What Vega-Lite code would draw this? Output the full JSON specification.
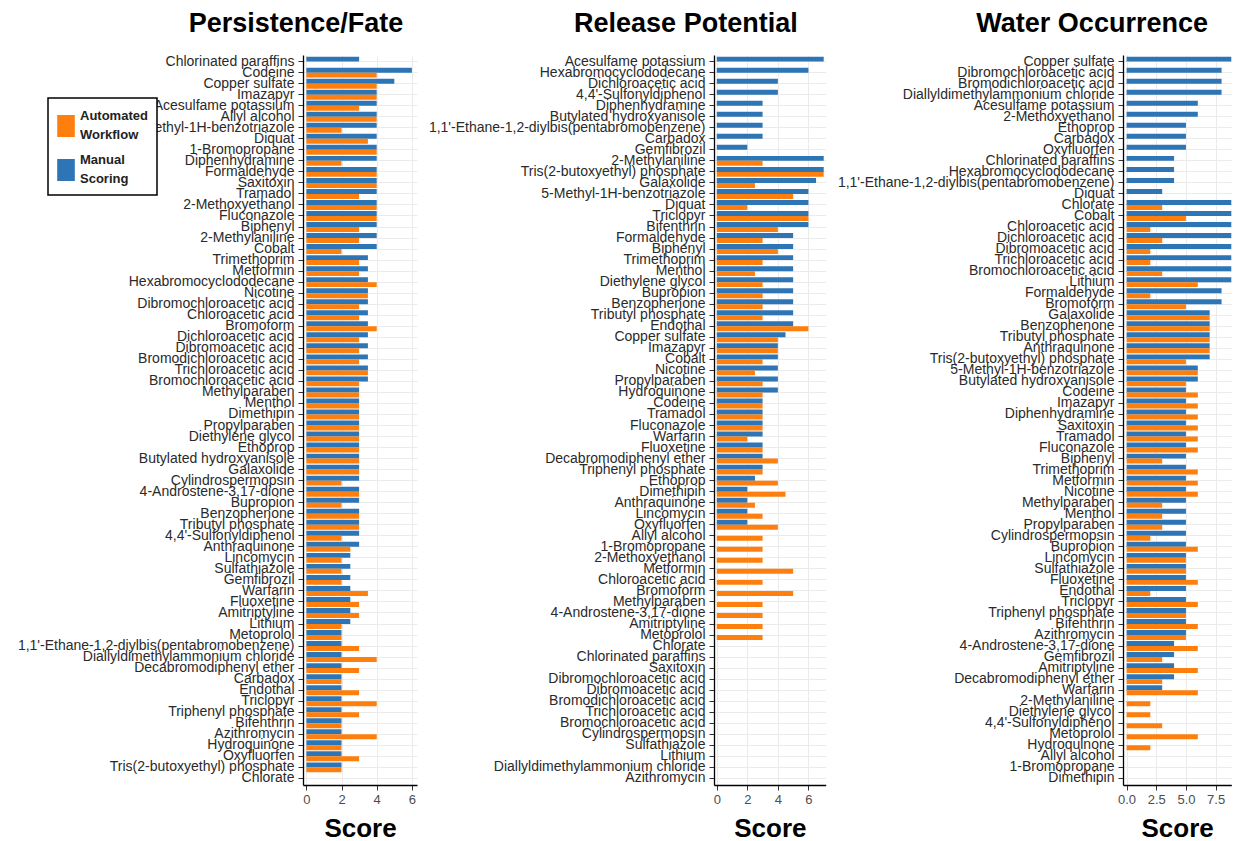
{
  "$schema": "https://vega.github.io/schema/vega-lite/v6.json",
  "background": "white",
  "padding": {"left": 17, "top": 10, "right": 0, "bottom": 0},
  "bounds": "flush",
  "spacing": 297,
  "config": {
    "font": "Liberation Sans",
    "view": {"stroke": null},
    "axis": {"domainColor": "#000000", "domainWidth": 1.3, "tickColor": "#333333", "tickSize": 5, "gridColor": "#EBEBEB", "gridWidth": 1, "labelColor": "#2A2A2A"},
    "axisY": {"labelFontSize": 14, "labelLimit": 500, "labelPadding": 4, "bandPosition": 0.5, "grid": true, "title": null},
    "axisX": {"labelFontSize": 13, "labelColor": "#4D4D4D", "grid": true, "titleFontSize": 26, "titleFontWeight": "bold", "titleColor": "#000000", "titlePadding": 9, "labelPadding": 3},
    "title": {"fontSize": 27, "fontWeight": "bold", "color": "#000000", "anchor": "middle", "offset": 16},
    "legend": {"orient": "none", "legendX": -255, "legendY": 43, "title": null, "strokeColor": "#000000", "strokeWidth": 1.5, "fillColor": "#FFFFFF", "padding": 9, "symbolType": "M-1,-1.25H1V1.25H-1Z", "symbolSize": 310, "symbolStrokeWidth": 0, "labelFontSize": 13, "labelFontWeight": "bold", "labelColor": "#222222", "labelOffset": 5, "rowPadding": 9, "labelLimit": 200}
  },
  "datasets": {
    "p1": [
      {"chemical": "Chlorinated paraffins", "manual": 3},
      {"chemical": "Codeine", "manual": 6, "automated": 4},
      {"chemical": "Copper sulfate", "manual": 5, "automated": 4},
      {"chemical": "Imazapyr", "manual": 4, "automated": 4},
      {"chemical": "Acesulfame potassium", "manual": 4, "automated": 3},
      {"chemical": "Allyl alcohol", "manual": 4, "automated": 4},
      {"chemical": "5-Methyl-1H-benzotriazole", "manual": 4, "automated": 2},
      {"chemical": "Diquat", "manual": 4, "automated": 3.5},
      {"chemical": "1-Bromopropane", "manual": 4, "automated": 4},
      {"chemical": "Diphenhydramine", "manual": 4, "automated": 2},
      {"chemical": "Formaldehyde", "manual": 4, "automated": 4},
      {"chemical": "Saxitoxin", "manual": 4, "automated": 4},
      {"chemical": "Tramadol", "manual": 4, "automated": 3},
      {"chemical": "2-Methoxyethanol", "manual": 4, "automated": 4},
      {"chemical": "Fluconazole", "manual": 4, "automated": 4},
      {"chemical": "Biphenyl", "manual": 4, "automated": 3},
      {"chemical": "2-Methylaniline", "manual": 4, "automated": 3},
      {"chemical": "Cobalt", "manual": 4, "automated": 2},
      {"chemical": "Trimethoprim", "manual": 3.5, "automated": 3},
      {"chemical": "Metformin", "manual": 3.5, "automated": 3},
      {"chemical": "Hexabromocyclododecane", "manual": 3.5, "automated": 4},
      {"chemical": "Nicotine", "manual": 3.5, "automated": 3.5},
      {"chemical": "Dibromochloroacetic acid", "manual": 3.5, "automated": 3},
      {"chemical": "Chloroacetic acid", "manual": 3.5, "automated": 3},
      {"chemical": "Bromoform", "manual": 3.5, "automated": 4},
      {"chemical": "Dichloroacetic acid", "manual": 3.5, "automated": 3},
      {"chemical": "Dibromoacetic acid", "manual": 3.5, "automated": 3},
      {"chemical": "Bromodichloroacetic acid", "manual": 3.5, "automated": 3},
      {"chemical": "Trichloroacetic acid", "manual": 3.5, "automated": 3.5},
      {"chemical": "Bromochloroacetic acid", "manual": 3.5, "automated": 3},
      {"chemical": "Methylparaben", "manual": 3, "automated": 3},
      {"chemical": "Menthol", "manual": 3, "automated": 3},
      {"chemical": "Dimethipin", "manual": 3, "automated": 3},
      {"chemical": "Propylparaben", "manual": 3, "automated": 3},
      {"chemical": "Diethylene glycol", "manual": 3, "automated": 3},
      {"chemical": "Ethoprop", "manual": 3, "automated": 3},
      {"chemical": "Butylated hydroxyanisole", "manual": 3, "automated": 3},
      {"chemical": "Galaxolide", "manual": 3, "automated": 3},
      {"chemical": "Cylindrospermopsin", "manual": 3, "automated": 2},
      {"chemical": "4-Androstene-3,17-dione", "manual": 3, "automated": 3},
      {"chemical": "Bupropion", "manual": 3, "automated": 2},
      {"chemical": "Benzophenone", "manual": 3, "automated": 3},
      {"chemical": "Tributyl phosphate", "manual": 3, "automated": 3},
      {"chemical": "4,4'-Sulfonyldiphenol", "manual": 3, "automated": 2},
      {"chemical": "Anthraquinone", "manual": 3, "automated": 2.5},
      {"chemical": "Lincomycin", "manual": 2.5, "automated": 2},
      {"chemical": "Sulfathiazole", "manual": 2.5, "automated": 2},
      {"chemical": "Gemfibrozil", "manual": 2.5, "automated": 2},
      {"chemical": "Warfarin", "manual": 2.5, "automated": 3.5},
      {"chemical": "Fluoxetine", "manual": 2.5, "automated": 3},
      {"chemical": "Amitriptyline", "manual": 2.5, "automated": 3},
      {"chemical": "Lithium", "manual": 2.5, "automated": 2},
      {"chemical": "Metoprolol", "manual": 2, "automated": 2},
      {"chemical": "1,1'-Ethane-1,2-diylbis(pentabromobenzene)", "manual": 2, "automated": 3},
      {"chemical": "Diallyldimethylammonium chloride", "manual": 2, "automated": 4},
      {"chemical": "Decabromodiphenyl ether", "manual": 2, "automated": 3},
      {"chemical": "Carbadox", "manual": 2, "automated": 2},
      {"chemical": "Endothal", "manual": 2, "automated": 3},
      {"chemical": "Triclopyr", "manual": 2, "automated": 4},
      {"chemical": "Triphenyl phosphate", "manual": 2, "automated": 3},
      {"chemical": "Bifenthrin", "manual": 2, "automated": 2},
      {"chemical": "Azithromycin", "manual": 2, "automated": 4},
      {"chemical": "Hydroquinone", "manual": 2, "automated": 2},
      {"chemical": "Oxyfluorfen", "manual": 2, "automated": 3},
      {"chemical": "Tris(2-butoxyethyl) phosphate", "manual": 2, "automated": 2},
      {"chemical": "Chlorate"}
    ],
    "p2": [
      {"chemical": "Acesulfame potassium", "manual": 7},
      {"chemical": "Hexabromocyclododecane", "manual": 6},
      {"chemical": "Dichloroacetic acid", "manual": 4},
      {"chemical": "4,4'-Sulfonyldiphenol", "manual": 4},
      {"chemical": "Diphenhydramine", "manual": 3},
      {"chemical": "Butylated hydroxyanisole", "manual": 3},
      {"chemical": "1,1'-Ethane-1,2-diylbis(pentabromobenzene)", "manual": 3},
      {"chemical": "Carbadox", "manual": 3},
      {"chemical": "Gemfibrozil", "manual": 2},
      {"chemical": "2-Methylaniline", "manual": 7, "automated": 3},
      {"chemical": "Tris(2-butoxyethyl) phosphate", "manual": 7, "automated": 7},
      {"chemical": "Galaxolide", "manual": 6.5, "automated": 2.5},
      {"chemical": "5-Methyl-1H-benzotriazole", "manual": 6, "automated": 5},
      {"chemical": "Diquat", "manual": 6, "automated": 2},
      {"chemical": "Triclopyr", "manual": 6, "automated": 6},
      {"chemical": "Bifenthrin", "manual": 6, "automated": 4},
      {"chemical": "Formaldehyde", "manual": 5, "automated": 3},
      {"chemical": "Biphenyl", "manual": 5, "automated": 4},
      {"chemical": "Trimethoprim", "manual": 5, "automated": 3},
      {"chemical": "Menthol", "manual": 5, "automated": 2.5},
      {"chemical": "Diethylene glycol", "manual": 5, "automated": 3},
      {"chemical": "Bupropion", "manual": 5, "automated": 3},
      {"chemical": "Benzophenone", "manual": 5, "automated": 3},
      {"chemical": "Tributyl phosphate", "manual": 5, "automated": 3},
      {"chemical": "Endothal", "manual": 5, "automated": 6},
      {"chemical": "Copper sulfate", "manual": 4.5, "automated": 4},
      {"chemical": "Imazapyr", "manual": 4, "automated": 4},
      {"chemical": "Cobalt", "manual": 4, "automated": 3},
      {"chemical": "Nicotine", "manual": 4, "automated": 2.5},
      {"chemical": "Propylparaben", "manual": 4, "automated": 3},
      {"chemical": "Hydroquinone", "manual": 4, "automated": 3},
      {"chemical": "Codeine", "manual": 3, "automated": 3},
      {"chemical": "Tramadol", "manual": 3, "automated": 3},
      {"chemical": "Fluconazole", "manual": 3, "automated": 3},
      {"chemical": "Warfarin", "manual": 3, "automated": 2},
      {"chemical": "Fluoxetine", "manual": 3, "automated": 3},
      {"chemical": "Decabromodiphenyl ether", "manual": 3, "automated": 4},
      {"chemical": "Triphenyl phosphate", "manual": 3, "automated": 3},
      {"chemical": "Ethoprop", "manual": 2.5, "automated": 4},
      {"chemical": "Dimethipin", "manual": 2, "automated": 4.5},
      {"chemical": "Anthraquinone", "manual": 2, "automated": 2.5},
      {"chemical": "Lincomycin", "manual": 2, "automated": 3},
      {"chemical": "Oxyfluorfen", "manual": 2, "automated": 4},
      {"chemical": "Allyl alcohol", "automated": 3},
      {"chemical": "1-Bromopropane", "automated": 3},
      {"chemical": "2-Methoxyethanol", "automated": 3},
      {"chemical": "Metformin", "automated": 5},
      {"chemical": "Chloroacetic acid", "automated": 3},
      {"chemical": "Bromoform", "automated": 5},
      {"chemical": "Methylparaben", "automated": 3},
      {"chemical": "4-Androstene-3,17-dione", "automated": 3},
      {"chemical": "Amitriptyline", "automated": 3},
      {"chemical": "Metoprolol", "automated": 3}
    ],
    "p3": [
      {"chemical": "Copper sulfate", "manual": 10},
      {"chemical": "Dibromochloroacetic acid", "manual": 8},
      {"chemical": "Bromodichloroacetic acid", "manual": 8},
      {"chemical": "Diallyldimethylammonium chloride", "manual": 8},
      {"chemical": "Acesulfame potassium", "manual": 6},
      {"chemical": "2-Methoxyethanol", "manual": 6},
      {"chemical": "Ethoprop", "manual": 5},
      {"chemical": "Carbadox", "manual": 5},
      {"chemical": "Oxyfluorfen", "manual": 5},
      {"chemical": "Chlorinated paraffins", "manual": 4},
      {"chemical": "Hexabromocyclododecane", "manual": 4},
      {"chemical": "1,1'-Ethane-1,2-diylbis(pentabromobenzene)", "manual": 4},
      {"chemical": "Diquat", "manual": 3},
      {"chemical": "Chlorate", "manual": 10, "automated": 3},
      {"chemical": "Cobalt", "manual": 10, "automated": 5},
      {"chemical": "Chloroacetic acid", "manual": 10, "automated": 2},
      {"chemical": "Dichloroacetic acid", "manual": 10, "automated": 3},
      {"chemical": "Dibromoacetic acid", "manual": 10, "automated": 2},
      {"chemical": "Trichloroacetic acid", "manual": 10, "automated": 2},
      {"chemical": "Bromochloroacetic acid", "manual": 10, "automated": 3},
      {"chemical": "Lithium", "manual": 10, "automated": 6},
      {"chemical": "Formaldehyde", "manual": 8, "automated": 2},
      {"chemical": "Bromoform", "manual": 8, "automated": 5},
      {"chemical": "Galaxolide", "manual": 7, "automated": 7},
      {"chemical": "Benzophenone", "manual": 7, "automated": 7},
      {"chemical": "Tributyl phosphate", "manual": 7, "automated": 7},
      {"chemical": "Anthraquinone", "manual": 7, "automated": 7},
      {"chemical": "Tris(2-butoxyethyl) phosphate", "manual": 7, "automated": 5},
      {"chemical": "5-Methyl-1H-benzotriazole", "manual": 6, "automated": 6},
      {"chemical": "Butylated hydroxyanisole", "manual": 6, "automated": 5},
      {"chemical": "Codeine", "manual": 5, "automated": 6},
      {"chemical": "Imazapyr", "manual": 5, "automated": 6},
      {"chemical": "Diphenhydramine", "manual": 5, "automated": 6},
      {"chemical": "Saxitoxin", "manual": 5, "automated": 6},
      {"chemical": "Tramadol", "manual": 5, "automated": 6},
      {"chemical": "Fluconazole", "manual": 5, "automated": 6},
      {"chemical": "Biphenyl", "manual": 5, "automated": 3},
      {"chemical": "Trimethoprim", "manual": 5, "automated": 6},
      {"chemical": "Metformin", "manual": 5, "automated": 6},
      {"chemical": "Nicotine", "manual": 5, "automated": 6},
      {"chemical": "Methylparaben", "manual": 5, "automated": 3},
      {"chemical": "Menthol", "manual": 5, "automated": 3},
      {"chemical": "Propylparaben", "manual": 5, "automated": 3},
      {"chemical": "Cylindrospermopsin", "manual": 5, "automated": 2},
      {"chemical": "Bupropion", "manual": 5, "automated": 6},
      {"chemical": "Lincomycin", "manual": 5, "automated": 5},
      {"chemical": "Sulfathiazole", "manual": 5, "automated": 5},
      {"chemical": "Fluoxetine", "manual": 5, "automated": 6},
      {"chemical": "Endothal", "manual": 5, "automated": 2},
      {"chemical": "Triclopyr", "manual": 5, "automated": 6},
      {"chemical": "Triphenyl phosphate", "manual": 5, "automated": 5},
      {"chemical": "Bifenthrin", "manual": 5, "automated": 6},
      {"chemical": "Azithromycin", "manual": 5, "automated": 5},
      {"chemical": "4-Androstene-3,17-dione", "manual": 4, "automated": 6},
      {"chemical": "Gemfibrozil", "manual": 4, "automated": 3},
      {"chemical": "Amitriptyline", "manual": 4, "automated": 6},
      {"chemical": "Decabromodiphenyl ether", "manual": 4, "automated": 3},
      {"chemical": "Warfarin", "manual": 3, "automated": 6},
      {"chemical": "2-Methylaniline", "automated": 2},
      {"chemical": "Diethylene glycol", "automated": 2},
      {"chemical": "4,4'-Sulfonyldiphenol", "automated": 3},
      {"chemical": "Metoprolol", "automated": 6},
      {"chemical": "Hydroquinone", "automated": 2}
    ]
  },
  "hconcat": [
    {
      "width": 114,
      "height": 730,
      "title": {"text": "Persistence/Fate", "dx": -64},
      "data": {"name": "p1"},
      "transform": [{"fold": ["manual", "automated"], "as": ["method", "score"]}],
      "mark": {"type": "bar", "clip": true},
      "encoding": {
        "y": {"field": "chemical", "type": "nominal", "scale": {"paddingInner": 0.1, "paddingOuter": 0.15, "domain": ["Chlorinated paraffins","Codeine","Copper sulfate","Imazapyr","Acesulfame potassium","Allyl alcohol","5-Methyl-1H-benzotriazole","Diquat","1-Bromopropane","Diphenhydramine","Formaldehyde","Saxitoxin","Tramadol","2-Methoxyethanol","Fluconazole","Biphenyl","2-Methylaniline","Cobalt","Trimethoprim","Metformin","Hexabromocyclododecane","Nicotine","Dibromochloroacetic acid","Chloroacetic acid","Bromoform","Dichloroacetic acid","Dibromoacetic acid","Bromodichloroacetic acid","Trichloroacetic acid","Bromochloroacetic acid","Methylparaben","Menthol","Dimethipin","Propylparaben","Diethylene glycol","Ethoprop","Butylated hydroxyanisole","Galaxolide","Cylindrospermopsin","4-Androstene-3,17-dione","Bupropion","Benzophenone","Tributyl phosphate","4,4'-Sulfonyldiphenol","Anthraquinone","Lincomycin","Sulfathiazole","Gemfibrozil","Warfarin","Fluoxetine","Amitriptyline","Lithium","Metoprolol","1,1'-Ethane-1,2-diylbis(pentabromobenzene)","Diallyldimethylammonium chloride","Decabromodiphenyl ether","Carbadox","Endothal","Triclopyr","Triphenyl phosphate","Bifenthrin","Azithromycin","Hydroquinone","Oxyfluorfen","Tris(2-butoxyethyl) phosphate","Chlorate"]}, "axis": {"title": null}},
        "yOffset": {"field": "method", "type": "nominal", "scale": {"domain": ["manual", "automated"], "paddingInner": 0, "paddingOuter": 0}},
        "x": {"field": "score", "type": "quantitative", "scale": {"domain": [-0.19, 6.29], "nice": false, "zero": false}, "axis": {"values": [0, 2, 4, 6], "title": "Score"}},
        "x2": {"datum": 0},
        "color": {"field": "method", "type": "nominal", "scale": {"domain": ["automated", "manual"], "range": ["#FF7F0E", "#2E75B6"]}, "legend": {"labelExpr": "datum.value == 'automated' ? ['Automated', 'Workflow'] : ['Manual', 'Scoring']", "encode": {"labels": {"update": {"lineHeight": {"value": 19}}}, "symbols": {"update": {"y": {"value": 19}}}}}}
      }
    },
    {
      "width": 111.7,
      "height": 730,
      "title": {"text": "Release Potential", "dx": -84},
      "data": {"name": "p2"},
      "transform": [{"fold": ["manual", "automated"], "as": ["method", "score"]}],
      "mark": {"type": "bar", "clip": true},
      "encoding": {
        "y": {"field": "chemical", "type": "nominal", "scale": {"paddingInner": 0.1, "paddingOuter": 0.15, "domain": ["Acesulfame potassium","Hexabromocyclododecane","Dichloroacetic acid","4,4'-Sulfonyldiphenol","Diphenhydramine","Butylated hydroxyanisole","1,1'-Ethane-1,2-diylbis(pentabromobenzene)","Carbadox","Gemfibrozil","2-Methylaniline","Tris(2-butoxyethyl) phosphate","Galaxolide","5-Methyl-1H-benzotriazole","Diquat","Triclopyr","Bifenthrin","Formaldehyde","Biphenyl","Trimethoprim","Menthol","Diethylene glycol","Bupropion","Benzophenone","Tributyl phosphate","Endothal","Copper sulfate","Imazapyr","Cobalt","Nicotine","Propylparaben","Hydroquinone","Codeine","Tramadol","Fluconazole","Warfarin","Fluoxetine","Decabromodiphenyl ether","Triphenyl phosphate","Ethoprop","Dimethipin","Anthraquinone","Lincomycin","Oxyfluorfen","Allyl alcohol","1-Bromopropane","2-Methoxyethanol","Metformin","Chloroacetic acid","Bromoform","Methylparaben","4-Androstene-3,17-dione","Amitriptyline","Metoprolol","Chlorate","Chlorinated paraffins","Saxitoxin","Dibromochloroacetic acid","Dibromoacetic acid","Bromodichloroacetic acid","Trichloroacetic acid","Bromochloroacetic acid","Cylindrospermopsin","Sulfathiazole","Lithium","Diallyldimethylammonium chloride","Azithromycin"]}, "axis": {"title": null}},
        "yOffset": {"field": "method", "type": "nominal", "scale": {"domain": ["manual", "automated"], "paddingInner": 0, "paddingOuter": 0}},
        "x": {"field": "score", "type": "quantitative", "scale": {"domain": [-0.18, 7.13], "nice": false, "zero": false}, "axis": {"values": [0, 2, 4, 6], "title": "Score"}},
        "x2": {"datum": 0},
        "color": {"field": "method", "type": "nominal", "scale": {"domain": ["automated", "manual"], "range": ["#FF7F0E", "#2E75B6"]}, "legend": {"labelExpr": "datum.value == 'automated' ? ['Automated', 'Workflow'] : ['Manual', 'Scoring']", "encode": {"labels": {"update": {"lineHeight": {"value": 19}}}, "symbols": {"update": {"y": {"value": 19}}}}}}
      }
    },
    {
      "width": 108.3,
      "height": 730,
      "title": {"text": "Water Occurrence", "dx": -85},
      "data": {"name": "p3"},
      "transform": [{"fold": ["manual", "automated"], "as": ["method", "score"]}],
      "mark": {"type": "bar", "clip": true},
      "encoding": {
        "y": {"field": "chemical", "type": "nominal", "scale": {"paddingInner": 0.1, "paddingOuter": 0.15, "domain": ["Copper sulfate","Dibromochloroacetic acid","Bromodichloroacetic acid","Diallyldimethylammonium chloride","Acesulfame potassium","2-Methoxyethanol","Ethoprop","Carbadox","Oxyfluorfen","Chlorinated paraffins","Hexabromocyclododecane","1,1'-Ethane-1,2-diylbis(pentabromobenzene)","Diquat","Chlorate","Cobalt","Chloroacetic acid","Dichloroacetic acid","Dibromoacetic acid","Trichloroacetic acid","Bromochloroacetic acid","Lithium","Formaldehyde","Bromoform","Galaxolide","Benzophenone","Tributyl phosphate","Anthraquinone","Tris(2-butoxyethyl) phosphate","5-Methyl-1H-benzotriazole","Butylated hydroxyanisole","Codeine","Imazapyr","Diphenhydramine","Saxitoxin","Tramadol","Fluconazole","Biphenyl","Trimethoprim","Metformin","Nicotine","Methylparaben","Menthol","Propylparaben","Cylindrospermopsin","Bupropion","Lincomycin","Sulfathiazole","Fluoxetine","Endothal","Triclopyr","Triphenyl phosphate","Bifenthrin","Azithromycin","4-Androstene-3,17-dione","Gemfibrozil","Amitriptyline","Decabromodiphenyl ether","Warfarin","2-Methylaniline","Diethylene glycol","4,4'-Sulfonyldiphenol","Metoprolol","Hydroquinone","Allyl alcohol","1-Bromopropane","Dimethipin"]}, "axis": {"title": null}},
        "yOffset": {"field": "method", "type": "nominal", "scale": {"domain": ["manual", "automated"], "paddingInner": 0, "paddingOuter": 0}},
        "x": {"field": "score", "type": "quantitative", "scale": {"domain": [-0.3, 8.82], "nice": false, "zero": false}, "axis": {"values": [0, 2.5, 5, 7.5], "format": ".1f", "title": "Score"}},
        "x2": {"datum": 0},
        "color": {"field": "method", "type": "nominal", "scale": {"domain": ["automated", "manual"], "range": ["#FF7F0E", "#2E75B6"]}, "legend": {"labelExpr": "datum.value == 'automated' ? ['Automated', 'Workflow'] : ['Manual', 'Scoring']", "encode": {"labels": {"update": {"lineHeight": {"value": 19}}}, "symbols": {"update": {"y": {"value": 19}}}}}}
      }
    }
  ]
}
